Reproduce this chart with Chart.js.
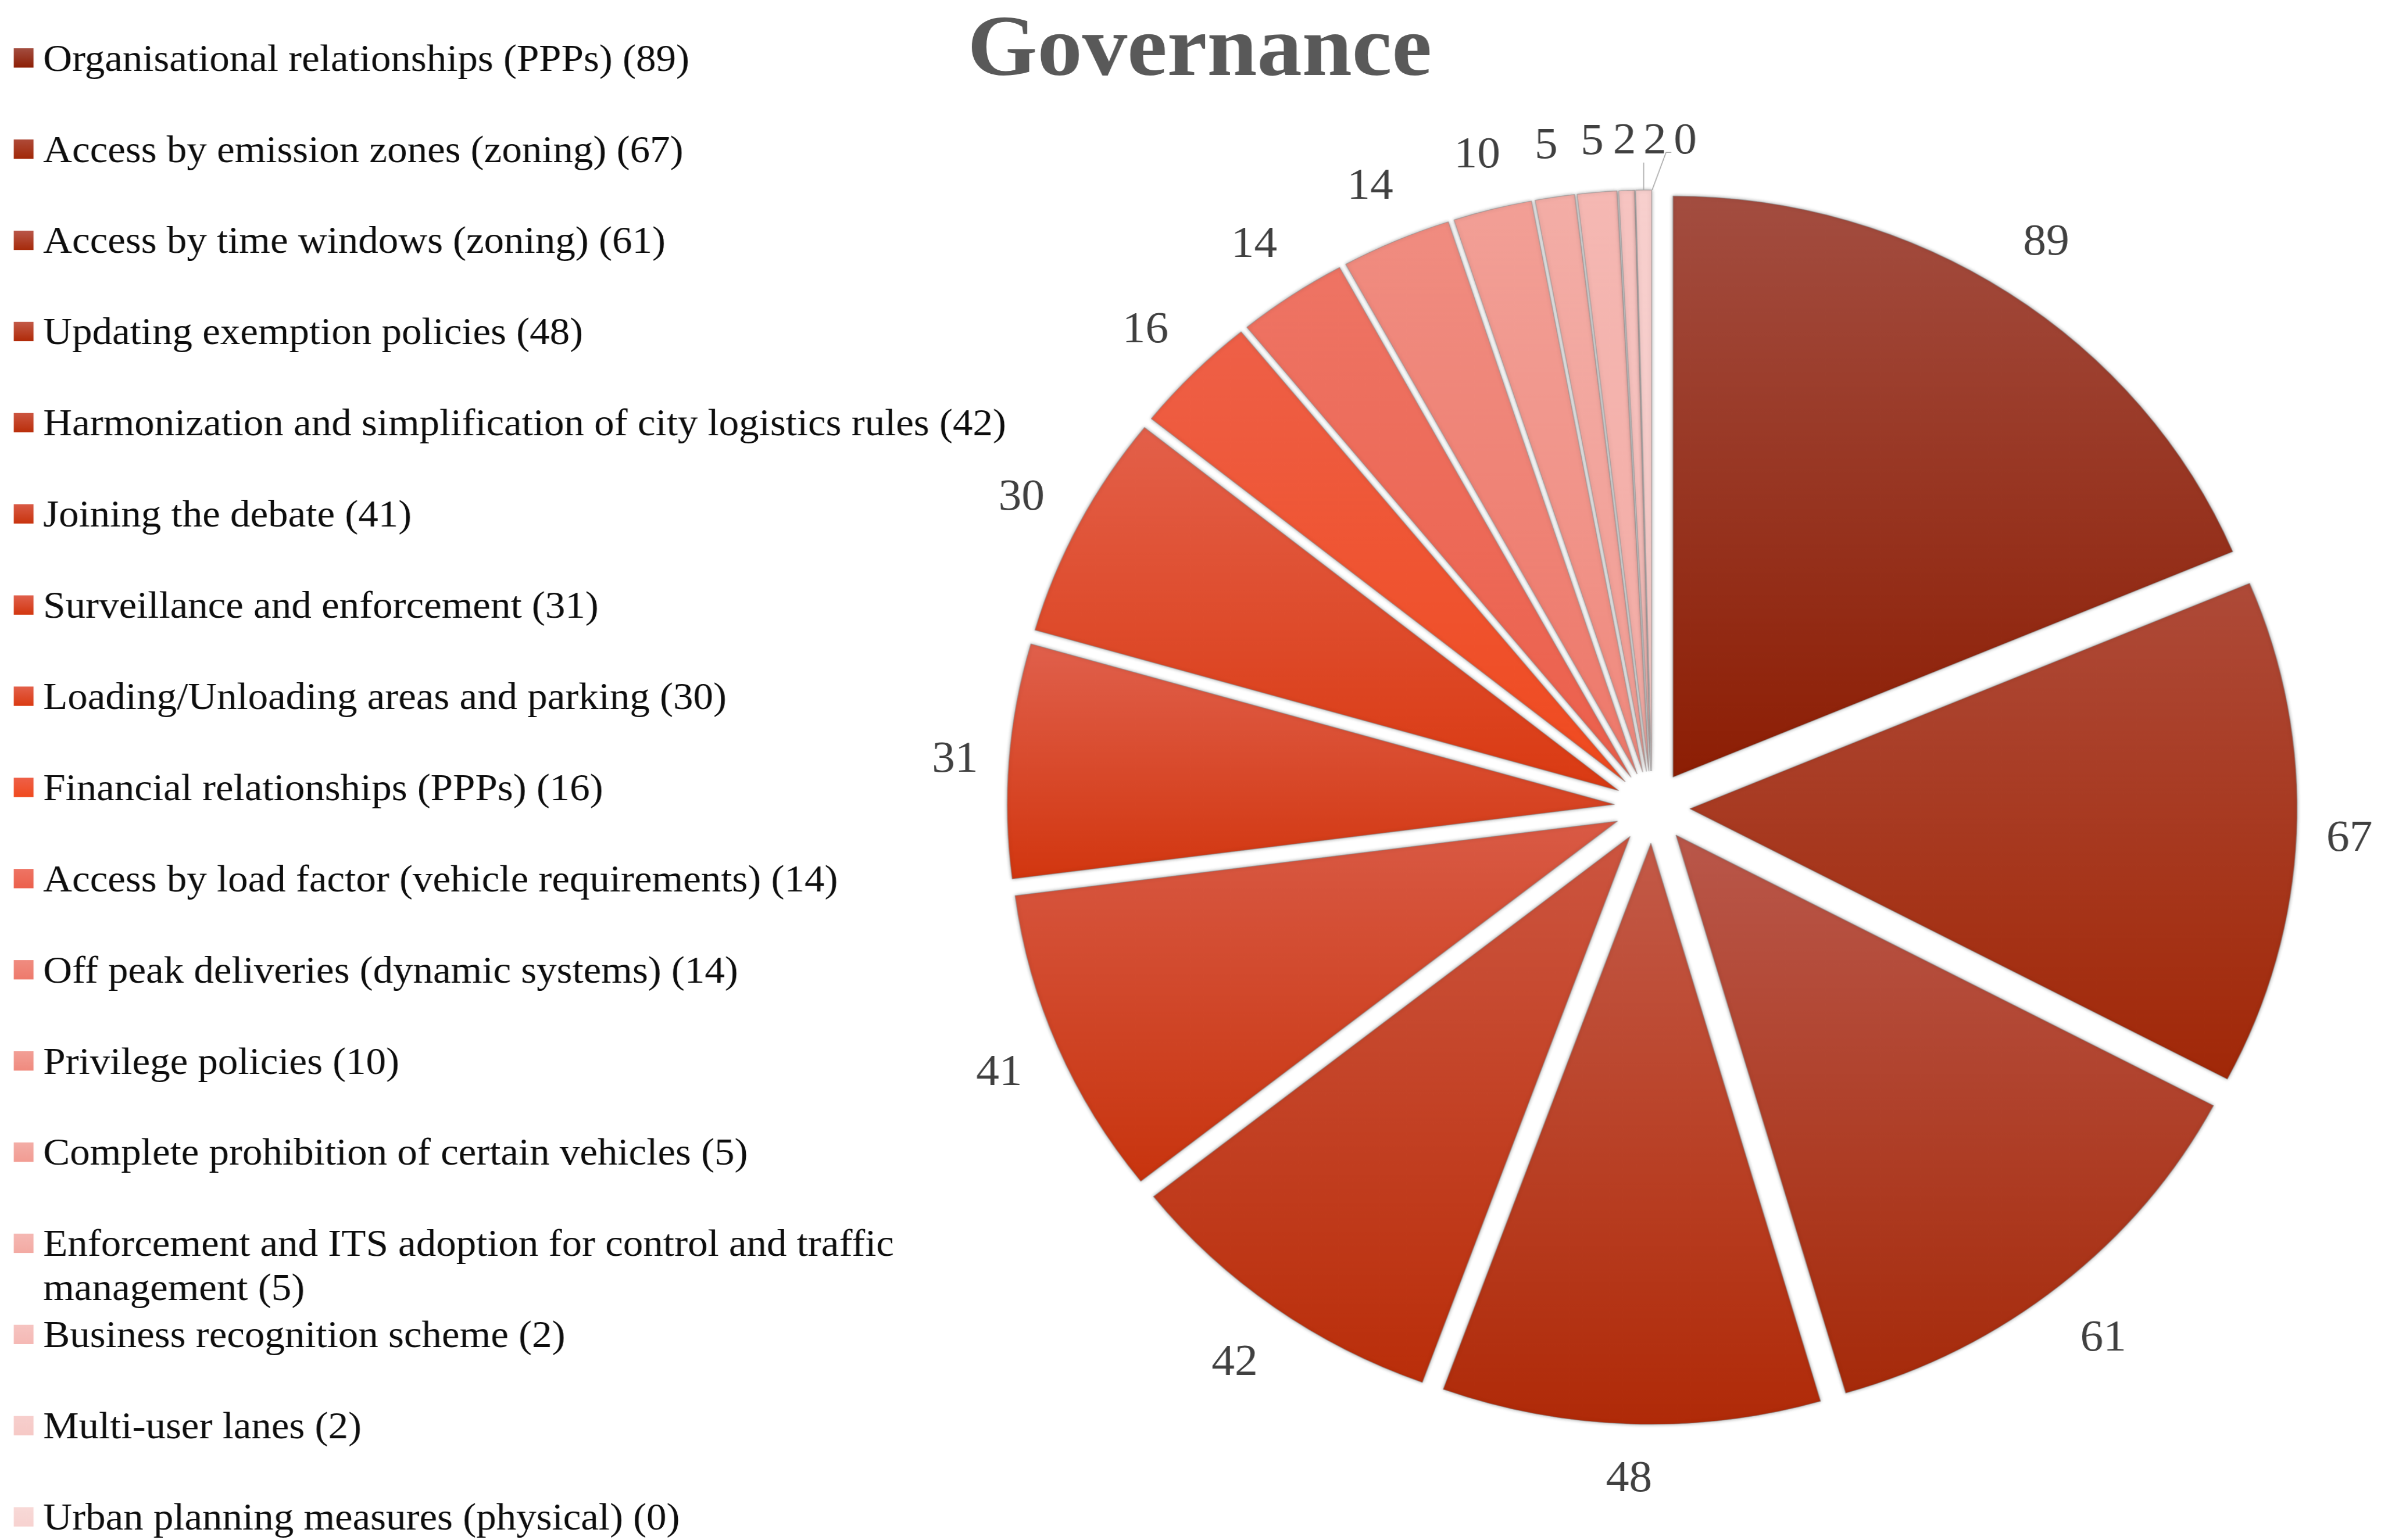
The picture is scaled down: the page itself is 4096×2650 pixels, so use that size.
<!DOCTYPE html>
<html>
<head>
<meta charset="utf-8">
<script src="https://cdn.jsdelivr.net/npm/chart.js@4.4.1/dist/chart.umd.min.js"></script>
<style>
  html, body { margin: 0; padding: 0; background: #fff; overflow: hidden; }
  /* the original picture is a little wider than tall, so the canvas is stretched sideways */
  #wrap { width: 3920px; height: 2650px; transform: scaleX(1.0449); transform-origin: 0 0; }
</style>
</head>
<body>
<div id="wrap"><canvas id="myChart" width="3920" height="2650"></canvas></div>
<script>
const chartTitle = 'Governance';
const categories = [
  'Organisational relationships (PPPs)',
  'Access by emission zones (zoning)',
  'Access by time windows (zoning)',
  'Updating exemption policies',
  'Harmonization and simplification of city logistics rules',
  'Joining the debate',
  'Surveillance and enforcement',
  'Loading/Unloading areas and parking',
  'Financial relationships (PPPs)',
  'Access by load factor (vehicle requirements)',
  'Off peak deliveries (dynamic systems)',
  'Privilege policies',
  'Complete prohibition of certain vehicles',
  'Enforcement and ITS adoption for control and traffic management',
  'Business recognition scheme',
  'Multi-user lanes',
  'Urban planning measures (physical)'
];
const counts = [89, 67, 61, 48, 42, 41, 31, 30, 16, 14, 14, 10, 5, 5, 2, 2, 0];

// slice fills: light at the top, deeper at the bottom
const topColors = ['#A34D40', '#AE4A38', '#B9574A', '#C35A48', '#CC5540', '#D95A45', '#E0604C', '#E3604A',
  '#EE6048', '#EE7464', '#F08C80', '#F29F96', '#F3ADA6', '#F5B8B3', '#F6C4C1', '#F7CFCD', '#F8D9D7'];
const bottomColors = ['#8D1E04', '#A12808', '#A62A0A', '#B02A08', '#BA2E0A', '#C8340E', '#D2360F', '#DA3A12',
  '#F04A1E', '#EC604C', '#EE7A6C', '#F08A7E', '#F29C93', '#F3AAA3', '#F5B9B5', '#F6C9C6', '#F7D2D0'];

const serif = "'Liberation Serif', 'Times New Roman', serif";
const pieRadius = 1000;
const explode = 62;          // how far each slice is pulled out from the centre
const labelSize = 76;
const labelGap = 24.5;
const labelPadX = 21.8;
const labelHalfH = 64;
const legendSize = 66;

function pieCentre(chart) {
  const a = chart.chartArea;
  return { x: (a.left + a.right) / 2, y: (a.top + a.bottom) / 2 };
}

function sliceFill(c) {
  const i = c.dataIndex;
  const arc = c.element;
  if (!arc || arc.startAngle === undefined || !c.chart.chartArea) return bottomColors[i];
  const o = pieCentre(c.chart);
  const mid = (arc.startAngle + arc.endAngle) / 2;
  const ty = o.y + Math.sin(mid) * explode;
  const ys = [ty, ty + Math.sin(arc.startAngle) * pieRadius, ty + Math.sin(arc.endAngle) * pieRadius];
  for (const a of [-Math.PI / 2, Math.PI / 2, 3 * Math.PI / 2]) {
    if (a >= arc.startAngle && a <= arc.endAngle) ys.push(ty + Math.sin(a) * pieRadius);
  }
  const top = Math.min(...ys), bottom = Math.max(...ys);
  const g = c.chart.ctx.createLinearGradient(0, top, 0, bottom + 1);
  g.addColorStop(0, topColors[i]);
  g.addColorStop(1, bottomColors[i]);
  return g;
}

function wrapText(ctx, text, maxW) {
  const words = text.split(' ');
  const lines = [];
  let line = '';
  for (const w of words) {
    const test = line ? line + ' ' + w : w;
    if (line && ctx.measureText(test).width > maxW) {
      lines.push(line);
      line = w;
    } else {
      line = test;
    }
  }
  lines.push(line);
  return lines;
}

const pieLook = {
  id: 'pieLook',
  beforeDatasetsDraw(chart) {
    // pull every slice straight out along its middle angle (plain explode, no resizing)
    const o = pieCentre(chart);
    chart.getDatasetMeta(0).data.forEach(arc => {
      const mid = (arc.startAngle + arc.endAngle) / 2;
      arc.x = o.x + Math.cos(mid) * explode;
      arc.y = o.y + Math.sin(mid) * explode;
    });
    const ctx = chart.ctx;
    ctx.save();
    ctx.shadowColor = 'rgba(0,0,0,0.35)';
    ctx.shadowBlur = 6;
  },
  afterDatasetsDraw(chart) {
    chart.ctx.restore();
  },
  afterDraw(chart) {
    const ctx = chart.ctx;
    const meta = chart.getDatasetMeta(0);
    const o = pieCentre(chart);

    // title
    ctx.save();
    ctx.fillStyle = '#595959';
    ctx.font = `bold 148px ${serif}`;
    ctx.textAlign = 'center';
    ctx.textBaseline = 'alphabetic';
    ctx.fillText(chartTitle, 1975, 129);
    ctx.restore();

    // data labels outside each slice
    ctx.save();
    ctx.font = `${labelSize}px ${serif}`;
    const spots = meta.data.map((arc, i) => {
      const mid = (arc.startAngle + arc.endAngle) / 2;
      const cos = Math.cos(mid), sin = Math.sin(mid);
      const tx = o.x + cos * explode, ty = o.y + sin * explode;
      const text = String(counts[i]);
      const w = ctx.measureText(text).width;
      const dist = pieRadius + labelGap + (w / 2 + labelPadX) * Math.abs(cos) + labelHalfH * Math.abs(sin);
      return { text, w, x: tx + cos * dist, y: ty + sin * dist,
        ax: tx + cos * pieRadius, ay: ty + sin * pieRadius, moved: false };
    });
    for (let i = 1; i < spots.length; i++) {
      const a = spots[i - 1], b = spots[i];
      if (a.y < o.y && b.y < o.y && Math.abs(a.y - b.y) < labelSize) {
        const minX = a.x + a.w / 2 + 12 + b.w / 2;
        if (b.x < minX) { b.x = minX; b.moved = true; }
      }
    }
    const half = 0.338 * labelSize;
    ctx.strokeStyle = '#A6A6A6';
    ctx.lineWidth = 1.6;
    spots.forEach(s => {
      if (!s.moved) return;
      const left = s.x - s.w / 2;
      const lb = s.y + half;
      ctx.beginPath();
      ctx.moveTo(s.ax, s.ay);
      if (s.ax >= left) {
        ctx.lineTo(s.ax, lb + 16);
      } else {
        ctx.lineTo(left - 12.6, lb - 2);
        ctx.lineTo(left - 4, lb - 2);
      }
      ctx.stroke();
    });
    ctx.fillStyle = '#404040';
    ctx.textAlign = 'center';
    ctx.textBaseline = 'alphabetic';
    spots.forEach(s => ctx.fillText(s.text, s.x, s.y + half));
    ctx.restore();

    // legend on the left
    ctx.save();
    ctx.font = `${legendSize}px ${serif}`;
    ctx.textAlign = 'left';
    ctx.textBaseline = 'alphabetic';
    categories.forEach((name, i) => {
      const base = 121.6 + i * 156.9;
      const g = ctx.createLinearGradient(0, base - 38.5, 0, base - 5.2);
      g.addColorStop(0, topColors[i]);
      g.addColorStop(1, bottomColors[i]);
      ctx.fillStyle = g;
      ctx.fillRect(22.6, base - 38.5, 32.6, 33.3);
      ctx.fillStyle = '#0d0d0d';
      const lines = wrapText(ctx, `${name} (${counts[i]})`, 1700);
      lines.forEach((ln, k) => ctx.fillText(ln, 71, base + k * 75.7));
    });
    ctx.restore();
  }
};

const ctx = document.getElementById('myChart').getContext('2d');
const myChart = new Chart(ctx, {
  type: 'pie',
  data: {
    labels: categories,
    datasets: [{
      data: counts,
      backgroundColor: sliceFill,
      borderColor: 'rgba(140,140,140,0.55)',
      borderWidth: 1.5,
      offset: 0,
      hoverOffset: 0,
      radius: pieRadius
    }]
  },
  options: {
    responsive: false,
    animation: false,
    events: [],
    layout: { padding: { left: 1520, top: 128, right: 0, bottom: 0 } },
    plugins: {
      legend: { display: false },
      tooltip: { enabled: false },
      title: { display: false }
    }
  },
  plugins: [pieLook]
});
// second pass so each slice gets its own gradient from its final geometry
myChart.update();
</script>
</body>
</html>
